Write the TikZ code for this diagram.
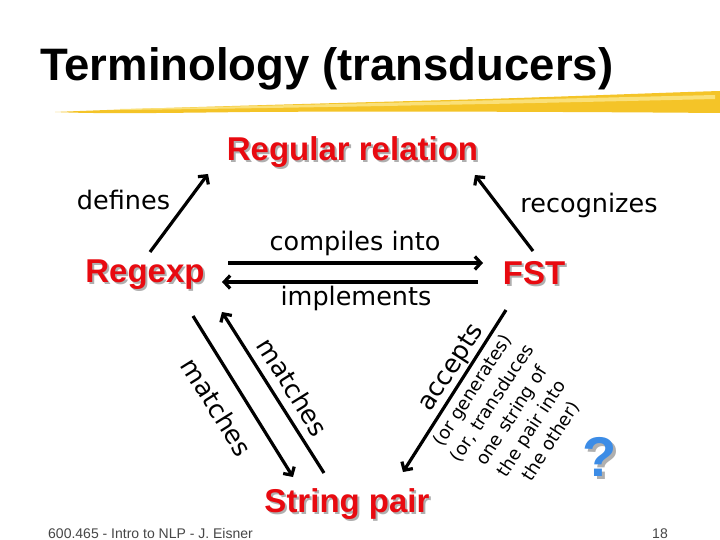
\documentclass[tikz,border=0pt]{standalone}
\usepackage{fontspec}
\setmainfont{DejaVu Sans}
\newfontfamily\arial{Liberation Sans}
\usetikzlibrary{arrows.meta}
\definecolor{slidered}{RGB}{232,10,16}
\definecolor{shadowgray}{RGB}{175,175,175}
\definecolor{qblue}{RGB}{60,140,230}
\definecolor{brushA}{RGB}{244,196,40}
\definecolor{brushB}{RGB}{250,224,120}
\definecolor{footgray}{RGB}{70,70,70}
\newcommand\shadowed[1]{\makebox[0pt][l]{\hspace{2pt}\raisebox{-2pt}{\textcolor{shadowgray}{#1}}}#1}
\newcommand\shadowedq[1]{\makebox[0pt][l]{\hspace{3pt}\raisebox{-3pt}{\textcolor{shadowgray}{#1}}}#1}
\begin{document}
\begin{tikzpicture}[x=1pt,y=-1pt,
  conn/.style={line width=3.2pt, -{Straight Barb[length=6pt,width=13pt]}},
  keyterm/.style={font=\arial\bfseries\fontsize{33}{36}\selectfont, text=slidered, inner sep=0pt, anchor=base},
  lbl/.style={font=\fontsize{25.5}{28}\selectfont, inner sep=0pt},
  smalllbl/.style={font=\fontsize{18}{23.4}\selectfont, inner sep=0pt, align=center},
  foot/.style={font=\arial\fontsize{14}{16}\selectfont, text=footgray, inner sep=0pt}]
\fill[white] (0,0) rectangle (720,540);
\useasboundingbox (0,0) rectangle (720,540);

% title and brush stroke
\fill[brushA] (55,112) .. controls (150,108) and (300,104) .. (450,100)
  .. controls (560,97) and (650,93) .. (720,91) -- (720,113)
  .. controls (600,112) and (400,111) .. (250,112)
  .. controls (160,113) and (100,114) .. (55,112) -- cycle;
\fill[brushB] (120,109) .. controls (300,105) and (500,100) .. (715,95)
  -- (715,99) .. controls (500,104) and (300,108) .. (120,110) -- cycle;
\node[font=\arial\bfseries\fontsize{45.5}{50}\selectfont, anchor=base west, inner sep=0pt] (title) at (40,81) {Terminology (transducers)};

% key terms with shadows
\node[keyterm] (rr) at (352.5,161) {\shadowed{Regular relation}};
\node[keyterm] (re) at (145,282) {\shadowed{Regexp}};
\node[keyterm] (fst) at (534,284) {\shadowed{FST}};
\node[keyterm] (sp) at (347,512) {\shadowed{String pair}};

% labels
\node[lbl, anchor=base] (def) at (123.5,210) {defines};
\node[lbl, anchor=base] (rec) at (589,212) {recognizes};
\node[lbl, anchor=base] (comp) at (355,251) {compiles into};
\node[lbl, anchor=base] (impl) at (356,305) {implements};
\node[lbl, rotate=57] (acc) at (452,368) {accepts};
\node[smalllbl, rotate=57] (paren) at (512,416) {(or generates)\\(or, transduces\\one string of\\the pair into\\the other)};
\node[lbl, rotate=-58] (m1) at (217,407) {matches};
\node[lbl, rotate=-58] (m2) at (293,387) {matches};

% connector end points
\coordinate (defA) at (150,252);
\coordinate (defB) at (208,174);
\coordinate (recA) at (533,251);
\coordinate (recB) at (475,175);
\coordinate (compA) at (228,263);
\coordinate (compB) at (483,263);
\coordinate (implA) at (478,282);
\coordinate (implB) at (222,282);
\coordinate (mdA) at (193,316);
\coordinate (mdB) at (293,477);
\coordinate (muA) at (324,473);
\coordinate (muB) at (222,312);
\coordinate (accA) at (506,310);
\coordinate (accB) at (403,472);

\draw[conn] (defA) -- (defB);
\draw[conn] (recA) -- (recB);
\draw[conn] (compA) -- (compB);
\draw[conn] (implA) -- (implB);
\draw[conn] (mdA) -- (mdB);
\draw[conn] (muA) -- (muB);
\draw[conn] (accA) -- (accB);

% question mark
\node[font=\arial\bfseries\fontsize{56}{60}\selectfont, text=qblue, inner sep=0pt] (q) at (600,458) {\shadowedq{?}};

% footer
\node[foot, anchor=base west] (footer) at (48,538) {600.465 - Intro to NLP - J. Eisner};
\node[foot, anchor=base east] (page) at (668,538) {18};
\end{tikzpicture}
\end{document}
